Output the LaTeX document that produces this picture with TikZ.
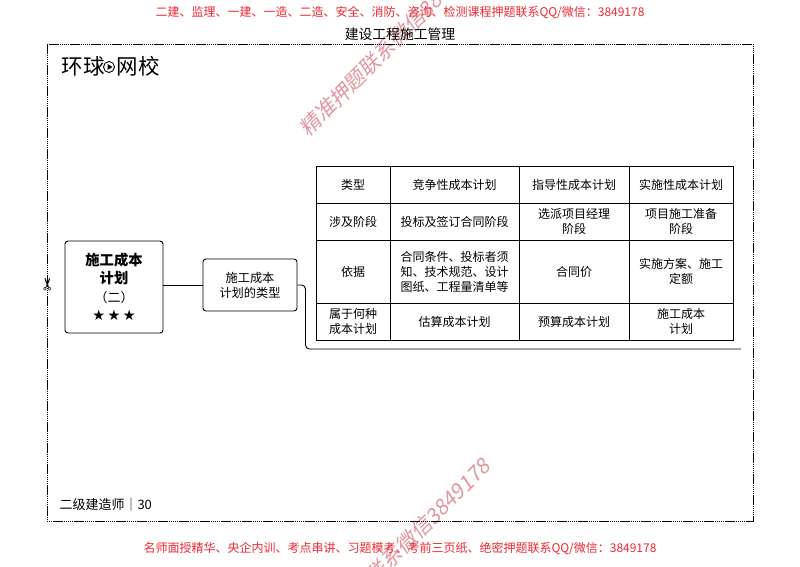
\documentclass[tikz,border=0pt]{standalone}
\usepackage{fontspec}
\setmainfont{Noto Sans CJK SC}
\newfontfamily\markfont[FakeSlant=0.2]{Noto Sans CJK SC}
\newfontfamily\symfont{DejaVu Sans}
\definecolor{notered}{RGB}{238,40,50}
\definecolor{stampred}{RGB}{226,150,160}
\tikzset{
  cell/.style={draw,line width=0.8pt,inner sep=0pt,align=center,font=\fontsize{12}{15}\selectfont,minimum width=#1},
  colA/.style={cell=74pt},
  colB/.style={cell=129pt},
  colC/.style={cell=110pt},
  colD/.style={cell=104pt},
  rowshort/.style={minimum height=37pt},
  rowtall/.style={minimum height=63pt},
  notice/.style={text=notered,font=\fontsize{12}{14}\selectfont},
  stamp/.style={text=stampred,rotate=45,font=\markfont\fontsize{21}{24}\selectfont},
  bigbox/.style={draw,line width=0.9pt,rounded corners=3pt,inner sep=0pt,align=center}
}
\begin{document}
\begin{tikzpicture}[x=1pt,y=-1pt]
  \clip (0,0) rectangle (800,566);
  \draw (391,44) node[stamp] (stampa){精准押题联系微信3849178}
    (398,551) node[stamp] (stampb){精准押题联系微信3849178};
  \draw (400,12) node[notice] (top){二建、监理、一建、一造、二造、安全、消防、咨询、检测课程押题联系QQ/微信：3849178}
    (400,34) node[font=\fontsize{13.8}{16}\selectfont] (title){建设工程施工管理}
    (400,548) node[notice] (bottom){名师面授精华、央企内训、考点串讲、习题模考、考前三页纸、绝密押题联系QQ/微信：3849178};
  \draw[line width=0.9pt,dash pattern=on 1.5pt off 0.6pt] (47,44) rectangle (753,521);
  \draw (83,66) node[font=\fontsize{21.5}{24}\selectfont] (brandl){环球}
    (109,67) node[draw,circle,line width=0.9pt,inner sep=0pt,minimum size=11pt] (brandc){}
    (138,66) node[font=\fontsize{21.5}{24}\selectfont] (brandr){网校}
    (56,505) node[anchor=west,font=\fontsize{13}{16}\selectfont] (grade){二级建造师｜30}
    (48.5,284) node[rotate=90,font=\symfont\fontsize{17}{17}\selectfont] (cut){✂};
  \fill (107.5,64) -- (112.5,67) -- (107.5,70) -- cycle;
  \draw (114,287) node[bigbox,minimum width=98pt,minimum height=92pt,font=\fontsize{14.3}{18.5}\selectfont\bfseries] (plan){施工成本\\计划\\{\mdseries\fontsize{13}{18.5}\selectfont（二）}\\{\symfont\mdseries ★\,★\,★}}
    (250,285) node[bigbox,minimum width=94pt,minimum height=52pt,font=\fontsize{12.2}{15}\selectfont] (kind){施工成本\\计划的类型};
  \draw (353,184.5) node[colA,rowshort] (c11){类型}
    (454.5,184.5) node[colB,rowshort] (c12){竞争性成本计划}
    (574,184.5) node[colC,rowshort] (c13){指导性成本计划}
    (681,184.5) node[colD,rowshort] (c14){实施性成本计划}
    (353,221.5) node[colA,rowshort] (c21){涉及阶段}
    (454.5,221.5) node[colB,rowshort] (c22){投标及签订合同阶段}
    (574,221.5) node[colC,rowshort] (c23){选派项目经理\\阶段}
    (681,221.5) node[colD,rowshort] (c24){项目施工准备\\阶段}
    (353,271.5) node[colA,rowtall] (c31){依据}
    (454.5,271.5) node[colB,rowtall] (c32){合同条件、投标者须\\知、技术规范、设计\\图纸、工程量清单等}
    (574,271.5) node[colC,rowtall] (c33){合同价}
    (681,271.5) node[colD,rowtall] (c34){实施方案、施工\\定额}
    (353,321.5) node[colA,rowshort] (c41){属于何种\\成本计划}
    (454.5,321.5) node[colB,rowshort] (c42){估算成本计划}
    (574,321.5) node[colC,rowshort] (c43){预算成本计划}
    (681,321.5) node[colD,rowshort] (c44){施工成本\\计划};
  \coordinate (tail) at (741,349);
  \begin{scope}[-,line width=0.9pt]
    \draw (plan.east |- kind.west) to (kind.west);
    \draw[rounded corners=4pt] (kind.east) -- (305.5,285) -- (305.5,349) -- (tail);
  \end{scope}
\end{tikzpicture}
\end{document}
